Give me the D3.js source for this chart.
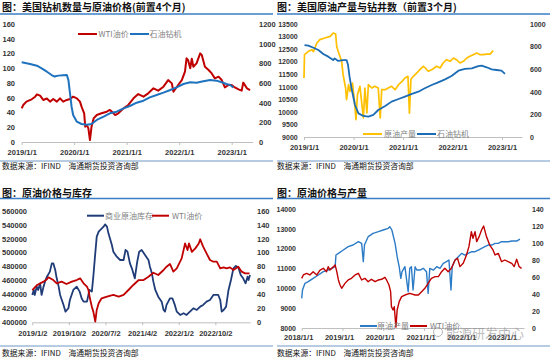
<!DOCTYPE html>
<html><head><meta charset="utf-8">
<script src="https://cdn.jsdelivr.net/npm/d3@7"></script>
<style>body{margin:0;background:#fff}svg{display:block}</style>
</head><body>
<svg id="c" width="550" height="360"></svg>
<script>
// ---------- DATA ----------
const titles = ["图：美国钻机数量与原油价格(前置4个月)", "图：美国原油产量与钻井数（前置3个月)", "图：原油价格与库存", "图：原油价格与产量"];
const sourceA = "数据来源：IFIND";
const sourceB = "海通期货投资咨询部";
const watermark = "能源研发中心";

// Panel 1: WTI (left) & rig count shifted 4 months (right)
const p1Legend = ["WTI油价", "石油钻机"];
const p1LeftTicks = [0, 20, 40, 60, 80, 100, 120, 140, 160];
const p1RightTicks = [0, 200, 400, 600, 800, 1000, 1200];
const p1XTicks = [2019, 2020, 2021, 2022, 2023];
const p1XLabels = ["2019/1/1", "2020/1/1", "2021/1/1", "2022/1/1", "2023/1/1"];
const p1Wti = [[2019.00,45.6],[2019.03,50.2],[2019.09,54.7],[2019.19,57.9],[2019.25,61],[2019.29,64.6],[2019.35,62.8],[2019.41,57],[2019.48,59],[2019.54,54.7],[2019.60,58.3],[2019.67,54.7],[2019.73,59.2],[2019.79,54.7],[2019.86,57],[2019.92,58.3],[2019.98,61.5],[2020.05,59.2],[2020.11,54.7],[2020.14,47.9],[2020.19,38.9],[2020.21,20.8],[2020.24,23],[2020.27,18.5],[2020.30,2.7],[2020.33,20.8],[2020.37,32],[2020.43,36.6],[2020.52,38.9],[2020.62,41.1],[2020.68,43.4],[2020.72,41],[2020.78,36.6],[2020.84,38.9],[2020.94,45.6],[2021.03,50.2],[2021.13,59.2],[2021.22,65],[2021.32,61.5],[2021.41,66],[2021.51,72.8],[2021.60,69.6],[2021.70,75],[2021.79,84],[2021.86,79.5],[2021.89,68.2],[2021.98,77.3],[2022.05,84],[2022.11,95.4],[2022.14,113.4],[2022.17,111],[2022.21,100],[2022.24,113],[2022.27,102],[2022.33,106.7],[2022.40,120.2],[2022.43,118],[2022.49,102],[2022.56,97.6],[2022.62,93],[2022.68,86.3],[2022.75,88.6],[2022.81,84],[2022.87,74],[2022.94,77.3],[2023.00,77.3],[2023.06,74],[2023.13,71.4],[2023.19,69.6],[2023.22,80.5],[2023.29,72.8],[2023.35,70.5]];
const p1Rigs = [[2019.00,810],[2019.16,793],[2019.29,776],[2019.38,749],[2019.48,715],[2019.57,681],[2019.63,664],[2019.66,672],[2019.70,675],[2019.79,678],[2019.86,681],[2019.89,630],[2019.92,495],[2019.95,359],[2019.98,275],[2020.05,207],[2020.14,183],[2020.24,176],[2020.33,183],[2020.43,224],[2020.56,258],[2020.68,292],[2020.81,308],[2020.94,342],[2021.06,366],[2021.19,400],[2021.32,420],[2021.44,454],[2021.57,478],[2021.70,502],[2021.83,529],[2021.95,556],[2022.08,590],[2022.21,607],[2022.33,603],[2022.46,617],[2022.59,630],[2022.71,624],[2022.81,607],[2022.90,590],[2022.97,580],[2023.03,556]];

// Panel 2: US crude production (left) & rig count shifted 3 months (right)
const p2Legend = ["原油产量", "石油钻机"];
const p2LeftTicks = [9000, 9500, 10000, 10500, 11000, 11500, 12000, 12500, 13000, 13500];
const p2RightTicks = [0, 200, 400, 600, 800, 1000];
const p2XTicks = [2019, 2020, 2021, 2022, 2023];
const p2XLabels = ["2019/1/1", "2020/1/1", "2021/1/1", "2022/1/1", "2023/1/1"];
const p2Prod = [[2019.00,11350],[2019.01,12280],[2019.09,12411],[2019.16,12478],[2019.19,12400],[2019.26,12743],[2019.32,12876],[2019.42,12942],[2019.53,13009],[2019.59,13142],[2019.64,13100],[2019.66,12610],[2019.69,12411],[2019.76,12013],[2019.79,11482],[2019.84,10951],[2019.86,10486],[2019.90,11084],[2019.93,10818],[2019.98,11150],[2020.02,10420],[2020.05,9690],[2020.08,10685],[2020.13,11018],[2020.17,10287],[2020.20,9756],[2020.23,10951],[2020.27,9955],[2020.30,11084],[2020.37,10951],[2020.43,11018],[2020.50,10951],[2020.54,9756],[2020.57,10884],[2020.64,10884],[2020.70,10951],[2020.77,11018],[2020.84,10884],[2020.91,11084],[2020.98,11217],[2021.04,11350],[2021.10,11416],[2021.13,9950],[2021.16,11300],[2021.21,11417],[2021.28,11550],[2021.34,11682],[2021.41,11815],[2021.45,11750],[2021.51,11616],[2021.58,11680],[2021.68,11815],[2021.75,11750],[2021.81,11947],[2021.88,12080],[2021.95,12013],[2022.02,12146],[2022.08,12080],[2022.15,11947],[2022.22,12013],[2022.29,12146],[2022.35,12213],[2022.42,12279],[2022.49,12345],[2022.56,12279],[2022.62,12279],[2022.69,12300],[2022.76,12300],[2022.82,12438]];
const p2Rigs = [[2019.01,814],[2019.09,808],[2019.19,790],[2019.29,770],[2019.39,735],[2019.49,711],[2019.59,681],[2019.62,696],[2019.69,673],[2019.79,681],[2019.86,681],[2019.89,637],[2019.92,534],[2019.96,431],[2020.03,283],[2020.10,209],[2020.20,186],[2020.30,180],[2020.40,195],[2020.50,239],[2020.64,274],[2020.77,313],[2020.91,336],[2021.04,357],[2021.18,381],[2021.31,401],[2021.44,431],[2021.58,460],[2021.71,484],[2021.85,510],[2021.98,540],[2022.12,587],[2022.25,602],[2022.39,608],[2022.52,628],[2022.59,631],[2022.69,617],[2022.79,599],[2022.89,593],[2022.99,587],[2023.06,558]];

// Panel 3: commercial crude inventory (left) & WTI (right)
const p3Legend = ["商业原油库存", "WTI油价"];
const p3LeftTicks = [400000, 420000, 440000, 460000, 480000, 500000, 520000, 540000, 560000];
const p3RightTicks = [0, 20, 40, 60, 80, 100, 120, 140, 160];
const p3XTicks = [2019.0, 2019.75, 2020.5, 2021.25, 2022.0, 2022.75];
const p3XLabels = ["2019/1/2", "2019/10/2", "2020/7/2", "2021/4/2", "2022/1/2", "2022/10/2"];
const p3Inv = [[2019.00,439200],[2019.03,446350],[2019.05,439200],[2019.09,451100],[2019.12,446350],[2019.16,455900],[2019.19,439200],[2019.23,451100],[2019.26,458300],[2019.30,465400],[2019.36,472600],[2019.40,484500],[2019.43,484500],[2019.47,475000],[2019.50,463100],[2019.54,451100],[2019.57,439200],[2019.64,424900],[2019.68,415300],[2019.74,420100],[2019.77,432000],[2019.84,446350],[2019.91,451100],[2019.97,444000],[2020.01,434400],[2020.05,429600],[2020.12,429600],[2020.17,446350],[2020.22,444000],[2020.25,465400],[2020.29,498900],[2020.32,522800],[2020.36,529900],[2020.39,532300],[2020.46,537100],[2020.49,540400],[2020.53,537100],[2020.56,527500],[2020.59,520400],[2020.63,510800],[2020.66,501300],[2020.73,494100],[2020.80,489300],[2020.87,489300],[2020.91,503700],[2020.95,501300],[2021.00,484500],[2021.04,477400],[2021.10,463100],[2021.15,486900],[2021.19,501300],[2021.24,503700],[2021.31,496500],[2021.38,489300],[2021.41,479800],[2021.45,470200],[2021.48,458300],[2021.52,446350],[2021.58,436800],[2021.65,429600],[2021.69,417700],[2021.72,415300],[2021.75,424900],[2021.82,434400],[2021.87,434400],[2021.92,424900],[2021.96,415300],[2022.03,410500],[2022.10,412930],[2022.16,410500],[2022.23,415300],[2022.30,420100],[2022.37,417700],[2022.44,422500],[2022.50,424900],[2022.57,429600],[2022.64,432000],[2022.71,439200],[2022.81,439200],[2022.85,432000],[2022.88,415300],[2022.92,417700],[2022.97,422500],[2023.02,446350],[2023.07,460700],[2023.12,477400],[2023.17,480700],[2023.22,478800],[2023.27,467800],[2023.32,463100],[2023.37,455900],[2023.41,465400],[2023.43,460700],[2023.46,467800]];
const p3Wti = [[2019.00,46.3],[2019.10,53.5],[2019.23,58.3],[2019.30,61.6],[2019.33,64.5],[2019.43,60.6],[2019.50,55.9],[2019.60,58.3],[2019.70,54.9],[2019.81,58.3],[2019.91,60.6],[2019.98,63],[2020.05,55.9],[2020.12,51.1],[2020.15,46.3],[2020.18,34.4],[2020.22,22.4],[2020.25,15.3],[2020.29,1],[2020.32,17.7],[2020.36,27.2],[2020.42,34.4],[2020.53,36.8],[2020.66,39.2],[2020.77,36.8],[2020.87,39.2],[2020.97,46.3],[2021.07,53.5],[2021.18,60.6],[2021.28,60.6],[2021.38,65.4],[2021.48,71.1],[2021.58,67.8],[2021.69,75],[2021.75,79.7],[2021.82,83.6],[2021.89,72.6],[2021.96,77.4],[2022.06,91.7],[2022.13,113],[2022.18,103.6],[2022.21,113],[2022.27,101],[2022.34,106],[2022.41,113],[2022.44,119],[2022.50,108.4],[2022.57,98.8],[2022.64,89.3],[2022.71,86.9],[2022.78,86.9],[2022.85,77.4],[2022.92,78.8],[2022.98,77.4],[2023.05,78.8],[2023.12,75],[2023.22,79.7],[2023.29,72.6],[2023.36,70.2],[2023.45,70.2]];

// Panel 4: US crude production (left) & WTI (right)
const p4Legend = ["原油产量", "WTI油价"];
const p4LeftTicks = [8000, 9000, 10000, 11000, 12000, 13000, 14000];
const p4RightTicks = [0, 20, 40, 60, 80, 100, 120, 140];
const p4XTicks = [2018, 2019, 2020, 2021, 2022, 2023];
const p4XLabels = ["2018/1/1", "2019/1/1", "2020/1/1", "2021/1/1", "2022/1/1", "2023/1/1"];
const p4Prod = [[2018.00,9497],[2018.02,9920],[2018.08,10253],[2018.16,10337],[2018.28,10505],[2018.41,10673],[2018.53,10841],[2018.65,10925],[2018.74,11009],[2018.82,11093],[2018.84,11681],[2018.90,11765],[2019.02,11933],[2019.14,12101],[2019.26,12185],[2019.39,12353],[2019.47,12269],[2019.51,11345],[2019.54,12200],[2019.63,12605],[2019.75,12773],[2019.88,12857],[2020.00,12941],[2020.12,13025],[2020.16,13110],[2020.21,12941],[2020.29,12269],[2020.34,11597],[2020.39,11093],[2020.43,10505],[2020.46,10841],[2020.53,11091],[2020.61,9830],[2020.65,11007],[2020.69,11091],[2020.73,9914],[2020.78,11091],[2020.82,10923],[2020.90,10923],[2020.98,11007],[2021.06,10839],[2021.10,9746],[2021.14,11007],[2021.23,10923],[2021.31,11091],[2021.39,11007],[2021.47,11259],[2021.55,11343],[2021.61,11427],[2021.66,9914],[2021.69,11091],[2021.76,11427],[2021.84,11595],[2021.92,11763],[2022.00,11679],[2022.08,11763],[2022.17,11847],[2022.25,11847],[2022.33,11931],[2022.41,12015],[2022.49,12099],[2022.57,12183],[2022.66,12183],[2022.74,12267],[2022.82,12267],[2022.90,12351],[2022.98,12351],[2023.06,12351],[2023.15,12384],[2023.27,12384],[2023.35,12485]];
const p4Wti = [[2018.00,58.4],[2018.04,62.4],[2018.12,64.3],[2018.20,62.4],[2018.28,66.3],[2018.37,62.4],[2018.45,68.2],[2018.53,70.2],[2018.61,66.3],[2018.65,72.2],[2018.69,68.2],[2018.78,72.2],[2018.82,74.1],[2018.86,66.3],[2018.90,56.5],[2018.94,50.6],[2018.98,46.7],[2019.06,52.5],[2019.14,56.5],[2019.22,58.4],[2019.31,62.4],[2019.39,64.3],[2019.47,56.5],[2019.55,58.4],[2019.63,54.5],[2019.71,57.3],[2019.80,54.5],[2019.88,56.5],[2019.96,57.3],[2020.04,59.6],[2020.08,56.5],[2020.14,50.6],[2020.18,42.7],[2020.20,25.1],[2020.24,21.2],[2020.27,25],[2020.31,1],[2020.34,21.2],[2020.39,31],[2020.45,36.9],[2020.53,38.8],[2020.65,40.8],[2020.78,38.8],[2020.86,38.8],[2020.94,42.7],[2021.02,46.7],[2021.10,52.5],[2021.18,58.4],[2021.27,60.4],[2021.35,60.4],[2021.43,66.3],[2021.51,70.2],[2021.59,66.3],[2021.67,70.2],[2021.76,80],[2021.82,82],[2021.88,72.2],[2021.96,76.1],[2022.04,85.9],[2022.10,95.7],[2022.16,113.3],[2022.20,105.5],[2022.25,113.3],[2022.29,101.6],[2022.35,107.5],[2022.41,115.3],[2022.46,120],[2022.53,107.5],[2022.61,97.6],[2022.69,91.8],[2022.74,85.9],[2022.82,87.8],[2022.90,78],[2022.98,80],[2023.06,78],[2023.15,76.1],[2023.21,72.2],[2023.27,80.8],[2023.33,72.2],[2023.39,70.2]];

// ---------- DRAW ----------
const svg = d3.select("#c");
const RED = "#C00000", BLUE = "#1F73BE", GOLD = "#FFC000", NAVY = "#1F3C78";
const CJK = "'Noto Sans CJK SC','Noto Sans',sans-serif";
const NUM = "'Liberation Sans',Arial,sans-serif";

const panels = [
  { title: titles[0], tx: 2, ty: 11, lineY: 14, x0: 0, x1: 273, sepY: 161, srcY: 169,
    xDom: [2019, 2023.4], xRng: [21.7, 252.7], yB: 142, yT: 24,
    lDom: [0, 160], rDom: [0, 1200], lTicks: p1LeftTicks, rTicks: p1RightTicks, lx: 15, rx: 259, tickFs: 7.5,
    xTicks: p1XTicks, xLabels: p1XLabels, xLabY: 155, xLabDx: 0,
    series: [{d: p1Wti, axis: "l", c: RED, w: 2}, {d: p1Rigs, axis: "r", c: BLUE, w: 2}],
    legend: [{x: 78, tx: 98.5, c: RED, t: p1Legend[0]}, {x: 130, tx: 149.5, c: BLUE, t: p1Legend[1]}], legY: 34, legL: 19 },
  { title: titles[1], tx: 277, ty: 11, lineY: 14, x0: 277, x1: 550, sepY: 161, srcY: 169,
    xDom: [2019, 2023.4], xRng: [304, 521.8], yB: 137, yT: 24,
    lDom: [9000, 13500], rDom: [0, 1000], lTicks: p2LeftTicks, rTicks: p2RightTicks, lx: 297.7, rx: 530, tickFs: 7,
    xTicks: p2XTicks, xLabels: p2XLabels, xLabY: 150, xLabDx: 0,
    series: [{d: p2Prod, axis: "l", c: GOLD, w: 1.7}, {d: p2Rigs, axis: "r", c: "#1B6CB5", w: 1.8}],
    legend: [{x: 363, tx: 384, c: GOLD, t: p2Legend[0]}, {x: 417, tx: 437, c: "#1B6CB5", t: p2Legend[1]}], legY: 134, legL: 19 },
  { title: titles[2], tx: 2, ty: 196.5, lineY: 198.5, x0: 0, x1: 273, sepY: 346, srcY: 356,
    xDom: [2019, 2023.46], xRng: [32.3, 250], yB: 322.3, yT: 210.7,
    lDom: [400000, 560000], rDom: [0, 160], lTicks: p3LeftTicks, rTicks: p3RightTicks, lx: 27, rx: 257, tickFs: 7.5,
    xTicks: p3XTicks, xLabels: p3XLabels, xLabY: 336.5, xLabDx: 0,
    series: [{d: p3Inv, axis: "l", c: NAVY, w: 1.8}, {d: p3Wti, axis: "r", c: RED, w: 1.8}],
    legend: [{x: 87, tx: 105, c: NAVY, t: p3Legend[0]}, {x: 152, tx: 172, c: RED, t: p3Legend[1]}], legY: 215.7, legL: 17 },
  { title: titles[3], tx: 277, ty: 196.5, lineY: 198.5, x0: 277, x1: 550, sepY: 346, srcY: 356,
    xDom: [2018, 2023.45], xRng: [301.7, 524], yB: 328, yT: 209,
    lDom: [8000, 14000], rDom: [0, 140], lTicks: p4LeftTicks, rTicks: p4RightTicks, lx: 296, rx: 532, tickFs: 7,
    xTicks: p4XTicks, xLabels: p4XLabels, xLabY: 340, xLabDx: -3.5,
    series: [{d: p4Prod, axis: "l", c: "#2B7BC7", w: 1.4}, {d: p4Wti, axis: "r", c: RED, w: 1.4}],
    legend: [{x: 360, tx: 377, c: "#2B7BC7", t: p4Legend[0]}, {x: 410, tx: 430, c: RED, t: p4Legend[1]}], legY: 326, legL: 17 }
];

panels.forEach((p, pi) => {
  const g = svg.append("g");
  // title & rules
  g.append("text").attr("x", p.tx).attr("y", p.ty).text(p.title)
    .attr("font-family", CJK).attr("font-size", 10).attr("font-weight", "bold").attr("fill", "#111");
  g.append("line").attr("x1", p.x0).attr("x2", p.x1).attr("y1", p.lineY).attr("y2", p.lineY)
    .attr("stroke", "#3A7EC6").attr("stroke-width", 1.4);
  g.append("line").attr("x1", p.x0).attr("x2", p.x1).attr("y1", p.sepY).attr("y2", p.sepY)
    .attr("stroke", "#4A7FB8").attr("stroke-width", 0.8);
  g.append("text").attr("x", p.tx).attr("y", p.srcY).text(sourceA)
    .attr("font-family", CJK).attr("font-size", 7.8).attr("fill", "#111");
  g.append("text").attr("x", p.tx + 66.5).attr("y", p.srcY).text(sourceB)
    .attr("font-family", CJK).attr("font-size", 7.8).attr("fill", "#111");

  const x = d3.scaleLinear().domain(p.xDom).range(p.xRng);
  const yL = d3.scaleLinear().domain(p.lDom).range([p.yB, p.yT]);
  const yR = d3.scaleLinear().domain(p.rDom).range([p.yB, p.yT]);

  // x axis
  const xa = g.append("g").attr("transform", `translate(0,${p.yB})`)
    .call(d3.axisBottom(x).tickValues(p.xTicks).tickFormat((d, i) => p.xLabels[i]).tickSizeInner(3).tickSizeOuter(0).tickPadding(2));
  xa.select(".domain").attr("stroke", "#BFBFBF");
  xa.selectAll(".tick line").attr("stroke", "#BFBFBF");
  xa.selectAll(".tick text").attr("font-family", NUM).attr("font-size", 7.5).attr("font-weight", "bold")
    .attr("fill", "#333").attr("dy", null).attr("y", p.xLabY - p.yB).attr("dx", p.xLabDx);

  // left axis labels
  const la = g.append("g").attr("transform", `translate(${p.lx},0)`)
    .call(d3.axisLeft(yL).tickValues(p.lTicks).tickSize(0).tickPadding(0).tickFormat(d3.format("d")));
  la.select(".domain").remove();
  la.selectAll("text").attr("font-family", NUM).attr("font-size", p.tickFs).attr("font-weight", "bold").attr("fill", "#333");
  // right axis labels
  const ra = g.append("g").attr("transform", `translate(${p.rx},0)`)
    .call(d3.axisRight(yR).tickValues(p.rTicks).tickSize(0).tickPadding(0).tickFormat(d3.format("d")));
  ra.select(".domain").remove();
  ra.selectAll("text").attr("font-family", NUM).attr("font-size", p.tickFs).attr("font-weight", "bold").attr("fill", "#333");

  // series
  p.series.forEach(s => {
    const ys = s.axis === "l" ? yL : yR;
    g.append("path").datum(s.d)
      .attr("d", d3.line().x(d => x(d[0])).y(d => ys(d[1])))
      .attr("fill", "none").attr("stroke", s.c).attr("stroke-width", s.w).attr("stroke-linejoin", "round");
  });

  // legend
  p.legend.forEach(l => {
    g.append("line").attr("x1", l.x).attr("x2", l.x + p.legL).attr("y1", p.legY).attr("y2", p.legY)
      .attr("stroke", l.c).attr("stroke-width", 2);
    g.append("text").attr("x", l.tx).attr("y", p.legY + 2.8).text(l.t)
      .attr("font-family", CJK).attr("font-size", 8).attr("fill", "#7F7F7F");
  });

  if (pi === 3) {
    g.append("circle").attr("cx", 438).attr("cy", 332).attr("r", 4.5).attr("fill", "none")
      .attr("stroke", "#999").attr("stroke-width", 1).attr("opacity", 0.7);
    g.append("text").attr("x", 446).attr("y", 337.5).text(watermark)
      .attr("font-family", CJK).attr("font-size", 13).attr("fill", "#8A8A8A").attr("opacity", 0.55);
  }
});
</script>
</body></html>
